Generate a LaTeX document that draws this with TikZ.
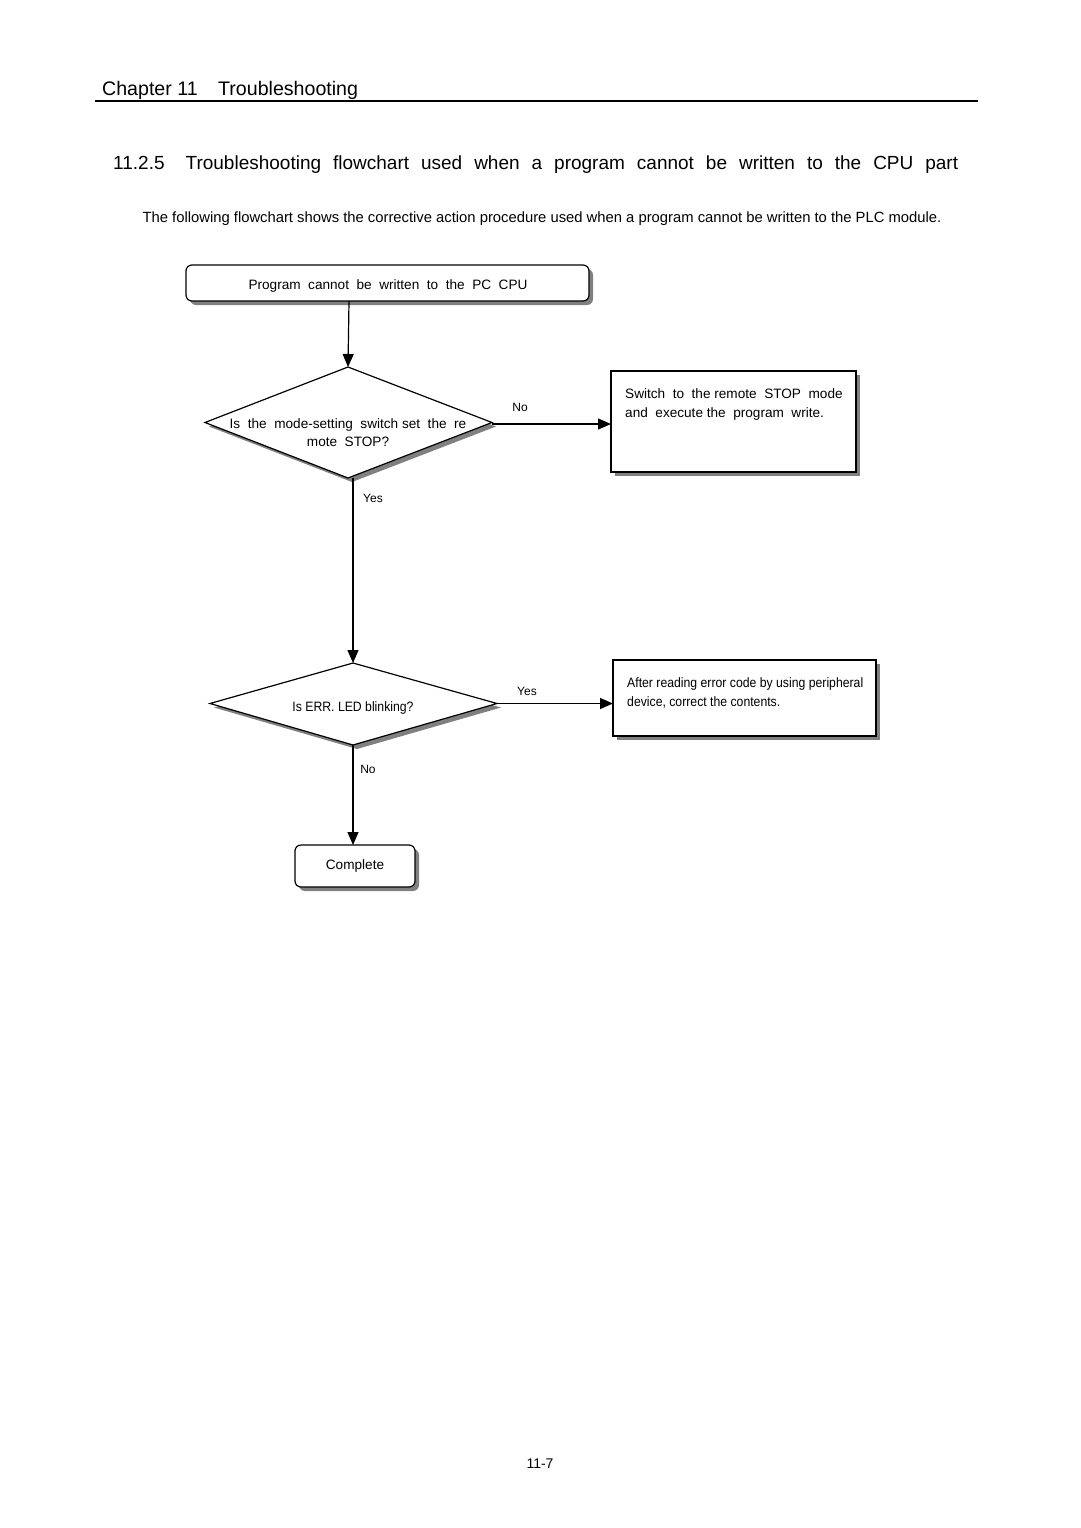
\documentclass[tikz,border=0pt]{standalone}
\usepackage{fontspec}
\setmainfont{Liberation Sans}
\newfontfamily\narrowfont[FakeStretch=0.9]{Liberation Sans}
\usetikzlibrary{arrows.meta,shadows}
\begin{document}
\begin{tikzpicture}[x=1pt,y=-1pt,
  shad/.style={drop shadow={shadow xshift=4pt,shadow yshift=-4pt,fill=black!50,opacity=1}},
  line/.style={line width=1.2pt,draw=black},
  arr/.style={line, -{Triangle[length=13pt,width=11pt]}},
  rbox/.style={line,fill=white,rounded corners=6pt,shad,inner sep=0pt},
  sbox/.style={line,fill=white,shad,inner sep=0pt},
  ftext/.style={font=\fontsize{13.6}{19}\selectfont,inner sep=0pt,anchor=base},
  ntext/.style={font=\narrowfont\fontsize{13.6}{19}\selectfont,inner sep=0pt,anchor=base},
  lbl/.style={font=\fontsize{12}{14}\selectfont,inner sep=0pt,anchor=base},
]
\useasboundingbox (0,0) rectangle (1080,1528);
\fill[white] (0,0) rectangle (1080,1528);

% header
\node[anchor=base west,inner sep=0pt,font=\fontsize{19.6}{24}\selectfont] (chap) at (102,95) {Chapter 11};
\node[anchor=base west,inner sep=0pt,font=\fontsize{19.6}{24}\selectfont] (chapt) at (218,95) {Troubleshooting};
\coordinate (rl) at (95,101);
\coordinate (rr) at (978,101);
\draw[line width=2.6pt] (rl) -- (rr);

\node[anchor=base west,inner sep=0pt,font=\fontsize{19}{23}\selectfont] (sec) at (113,169)
  {\makebox[845pt][s]{11.2.5\hspace{9pt} Troubleshooting flowchart used when a program cannot be written to the CPU part}};

\node[anchor=base,inner sep=0pt,font=\fontsize{14.8}{17}\selectfont] (intro) at (542,222)
  {The following flowchart shows the corrective action procedure used when a program cannot be written to the PLC module.};

% start box
\node[rbox,minimum width=403pt,minimum height=36pt] (start) at (387.5,283) {};
\node[ftext] (starttxt) at (388,289) {Program\ \ cannot\ \ be\ \ written\ \ to\ \ the\ \ PC\ \ CPU};

% diamond 1
\coordinate (d1t) at (348,367);
\coordinate (d1l) at (205,422.5);
\coordinate (d1r) at (492,422.5);
\coordinate (d1b) at (348,478);
\draw[line,fill=white,shad,line join=miter] (d1t) -- (d1r) -- (d1b) -- (d1l) -- cycle;
\node[ftext] (d1txta) at (348,428) {Is\ \ the\ \ mode-setting\ \ switch set\ \ the\ \ re};
\node[ftext] (d1txtb) at (348,446) {mote\ \ STOP?};

% box 2
\node[sbox,minimum width=245pt,minimum height=101pt] (b2) at (733.5,421.5) {};
\node[ftext,anchor=base west] (b2txta) at (625,398) {Switch\ \ to\ \ the remote\ \ STOP\ \ mode};
\node[ftext,anchor=base west] (b2txtb) at (625,417) {and\ \ execute the\ \ program\ \ write.};

% diamond 2
\coordinate (d2t) at (353,663);
\coordinate (d2l) at (210,703.5);
\coordinate (d2r) at (497,703.5);
\coordinate (d2b) at (353,745);
\draw[line,fill=white,shad,line join=miter] (d2t) -- (d2r) -- (d2b) -- (d2l) -- cycle;
\node[ntext] (d2txt) at (353,711) {Is ERR. LED blinking?};

% box 3
\node[sbox,minimum width=263pt,minimum height=76pt] (b3) at (744.5,698) {};
\node[ntext,anchor=base west] (b3txta) at (627,687) {After reading error code by using peripheral};
\node[ntext,anchor=base west] (b3txtb) at (627,706) {device, correct the contents.};

% complete
\node[rbox,minimum width=120pt,minimum height=42pt] (comp) at (355,866) {};
\node[ftext] (comptxt) at (355,869) {Complete};

% connectors
\coordinate (s1) at (349,301);
\draw[arr] (s1) -- (d1t);
\coordinate (b2in) at (611,424);
\draw[arr] (d1r |- b2in) -- (b2in);
\node[lbl] (lno1) at (520,411) {No};
\coordinate (d1out) at (353,478);
\draw[arr] (d1out) -- (d2t);
\node[lbl] (lyes1) at (373,502) {Yes};
\coordinate (b3in) at (613,703.5);
\draw[arr] (d2r) -- (b3in);
\node[lbl] (lyes2) at (527,695) {Yes};
\coordinate (cin) at (353,845);
\draw[arr] (d2b) -- (cin);
\node[lbl] (lno2) at (368,773) {No};

% page number
\node[anchor=base,inner sep=0pt,font=\fontsize{14}{16}\selectfont] (pg) at (540,1468) {11-7};
\end{tikzpicture}
\end{document}
